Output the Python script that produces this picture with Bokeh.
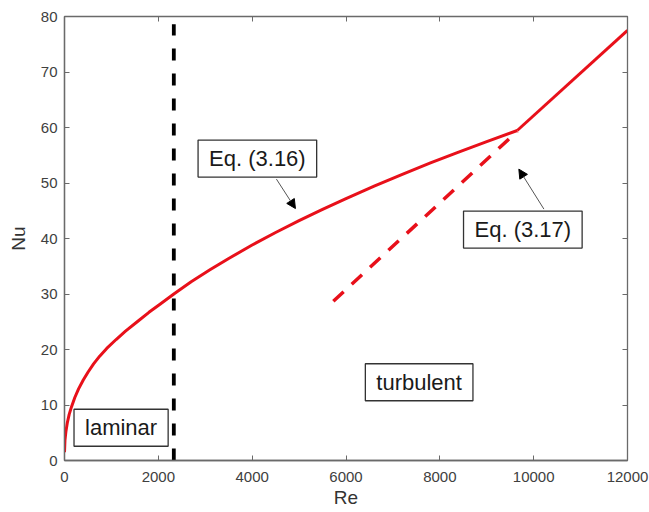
from bokeh.plotting import figure
from bokeh.models import (Range1d, LinearAxis, FixedTicker, Label, Arrow,
                          NormalHead)
from bokeh.embed import file_html
from bokeh.resources import INLINE

# ---------------- data ----------------
# Eq. (3.16) – laminar/transition curve
re_316 = [0, 10, 30, 60, 100, 150, 220, 300, 400, 500, 620, 750, 900, 1100,
          1300, 1550, 1800, 2050, 2345, 2700, 3100, 3500, 4000, 4500, 5000,
          5500, 6000, 6600, 7200, 7800, 8400, 9000, 9650]
nu_316 = [1.5, 3.7, 5.2, 6.8, 8.3, 9.7, 11.35, 12.9, 14.5, 15.9, 17.4, 18.8,
          20.2, 21.8, 23.3, 25.0, 26.7, 28.25, 30.1, 32.2, 34.35, 36.4, 38.82,
          41.08, 43.22, 45.25, 47.2, 49.43, 51.56, 53.61, 55.57, 57.47, 59.46]
# Eq. (3.17) – turbulent line (solid part)
re_317 = [9650, 12000]
nu_317 = [59.46, 77.5]
# Eq. (3.17) extrapolated (dashed part)
re_317_ext = [5730, 9650]
nu_317_ext = [28.7, 59.3]
# laminar limit
re_crit = [2330, 2330]
nu_crit = [0, 78.6]

x_ticks = [0, 2000, 4000, 6000, 8000, 10000, 12000]
y_ticks = [0, 10, 20, 30, 40, 50, 60, 70, 80]

# annotation boxes: (text, Re, Nu)
boxes = [("laminar", 1206, 5.9),
         ("turbulent", 7559, 14.1),
         ("Eq. (3.16)", 4111, 54.4),
         ("Eq. (3.17)", 9769, 41.6)]
# arrows: (Re_start, Nu_start, Re_end, Nu_end)
arrows = [(4517, 50.7, 4922, 45.4),
          (10218, 45.3, 9684, 52.5)]

FONT = "Liberation Sans"
AX = "#6a6a6a"
RED = "#e8101a"

p = figure(width=649, height=512, output_backend="svg", toolbar_location=None,
           x_range=Range1d(0, 12000), y_range=Range1d(0, 80),
           min_border_left=64, min_border_right=22, min_border_top=16,
           min_border_bottom=52)
p.grid.visible = False
p.outline_line_color = AX
p.outline_line_width = 1.3
p.background_fill_color = "white"
p.border_fill_color = "white"

p.xaxis.ticker = FixedTicker(ticks=x_ticks)
p.yaxis.ticker = FixedTicker(ticks=y_ticks)
p.xaxis.axis_label = "Re"
p.yaxis.axis_label = "Nu"
for ax in (p.xaxis, p.yaxis):
    ax.axis_line_color = AX
    ax.axis_line_width = 1.3
    ax.major_tick_line_color = AX
    ax.major_tick_in = 5
    ax.major_tick_out = 0
    ax.minor_tick_line_color = None
    ax.major_label_text_font = FONT
    ax.major_label_text_font_size = "15px"
    ax.major_label_text_color = "#404040"
    ax.axis_label_text_font = FONT
    ax.axis_label_text_font_size = "19px"
    ax.axis_label_text_font_style = "normal"
    ax.axis_label_text_color = "#333333"
p.xaxis.major_label_standoff = 11
p.xaxis.axis_label_standoff = 2
p.yaxis.major_label_standoff = 7
p.yaxis.axis_label_standoff = 9

# mirrored ticks on top and right (minor ticks only -> no labels)
for loc, tk in (("above", x_ticks), ("right", y_ticks)):
    a = LinearAxis(ticker=FixedTicker(ticks=[], minor_ticks=tk))
    a.axis_line_color = AX
    a.major_tick_line_color = None
    a.minor_tick_line_color = AX
    a.minor_tick_in = 5
    a.minor_tick_out = 0
    p.add_layout(a, loc)

# curves
p.line(re_316, nu_316, line_color=RED, line_width=3, line_join="round")
p.line(re_317, nu_317, line_color=RED, line_width=3, line_join="round")
p.line(re_317_ext, nu_317_ext, line_color=RED, line_width=3.5,
       line_dash="14 11")
p.line(re_crit, nu_crit, line_color="black", line_width=3.8,
       line_dash="12 13")

for txt, bx, by in boxes:
    p.add_layout(Label(x=bx, y=by, text=txt, text_align="center",
                       text_baseline="middle", text_font=FONT,
                       text_font_size="22px", text_color="#1a1a1a",
                       background_fill_color="white",
                       border_line_color="#333333", border_line_width=1.3,
                       padding=(11, 6)))

for x0, y0, x1, y1 in arrows:
    p.add_layout(Arrow(x_start=x0, y_start=y0, x_end=x1, y_end=y1,
                       line_color="#555555", line_width=1,
                       end=NormalHead(size=9, fill_color="black",
                                      line_color="black", line_width=1)))

open("out.html", "w").write(file_html(p, INLINE))
